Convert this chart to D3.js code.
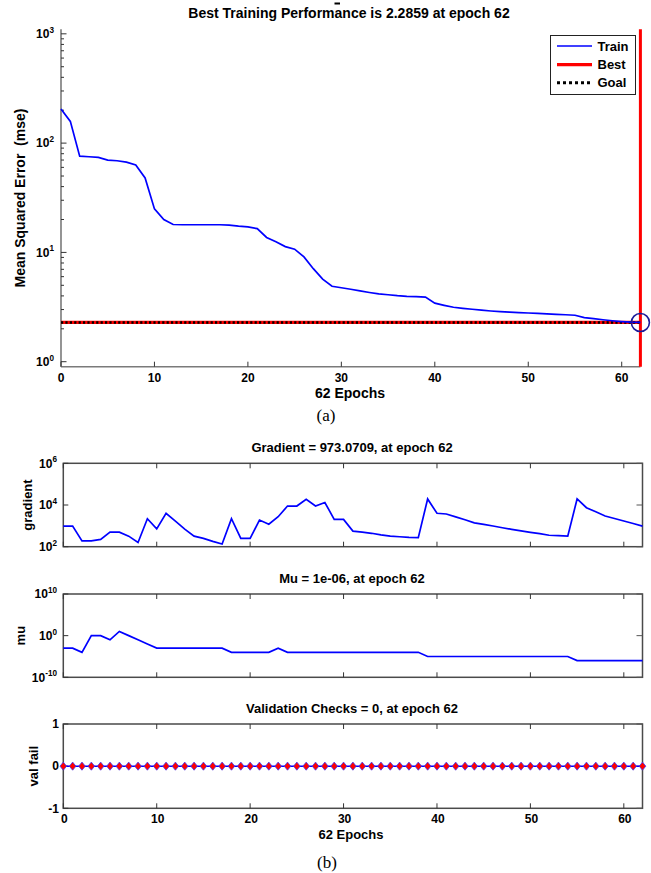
<!DOCTYPE html>
<html><head><meta charset="utf-8">
<script src="https://cdn.jsdelivr.net/npm/d3@7"></script>
<style>
body{margin:0;background:#fff;}
text{font-family:"Liberation Sans",Arial,Helvetica,sans-serif;font-weight:bold;fill:#000;}
</style>
</head><body>
<svg id="c" width="651" height="873"></svg>
<script>
// ---------------- DATA ----------------
const epochs = d3.range(0, 63);
const perfTrain = [205,158,76,75,74,70,69,67,63,48,
  25,20,18,17.9,17.9,17.9,17.9,17.9,17.8,17.4,
  17.1,16.5,13.7,12.5,11.3,10.7,9.1,7.1,5.7,4.9,
  4.75,4.6,4.45,4.3,4.17,4.1,4.02,3.96,3.94,3.9,
  3.43,3.28,3.15,3.08,3.02,2.96,2.91,2.87,2.84,2.81,
  2.79,2.77,2.74,2.71,2.69,2.66,2.53,2.48,2.42,2.37,
  2.33,2.30,2.2859];
const bestEpoch = 62;
const bestPerf = 2.2859;
const goalPerf = 2.2859;
const gradient = [980,980,190,190,225,500,500,320,160,2200,
  720,4000,1700,700,320,250,180,135,2200,250,
  250,1900,1200,2750,8900,8900,18600,8900,13200,2050,
  2050,560,500,440,370,320,300,280,270,19500,
  4000,3700,2700,1950,1400,1170,980,810,680,575,
  490,420,355,340,320,19500,7400,4700,2950,2240,
  1700,1290,973.0709];
const mu = [1e-3,1e-3,1e-4,1,1,0.1,10,1,0.1,0.01,
  1e-3,1e-3,1e-3,1e-3,1e-3,1e-3,1e-3,1e-3,1e-4,1e-4,
  1e-4,1e-4,1e-4,1e-3,1e-4,1e-4,1e-4,1e-4,1e-4,1e-4,
  1e-4,1e-4,1e-4,1e-4,1e-4,1e-4,1e-4,1e-4,1e-4,1e-5,
  1e-5,1e-5,1e-5,1e-5,1e-5,1e-5,1e-5,1e-5,1e-5,1e-5,
  1e-5,1e-5,1e-5,1e-5,1e-5,1e-6,1e-6,1e-6,1e-6,1e-6,
  1e-6,1e-6,1e-6];
const valFail = [0,0,0,0,0,0,0,0,0,0,0,0,0,0,0,0,0,0,0,0,0,
  0,0,0,0,0,0,0,0,0,0,0,0,0,0,0,0,0,0,0,0,0,
  0,0,0,0,0,0,0,0,0,0,0,0,0,0,0,0,0,0,0,0,0];
const xTicks = [0,10,20,30,40,50,60];
const perfTickExp = [0,1,2,3];
const gradTickExp = [2,4,6];
const muTickExp = [-10,0,10];
const valTicks = [-1,0,1];
const legendItems = ["Train","Best","Goal"];
const titles = {
  perf: "Best Training Performance is 2.2859 at epoch 62",
  grad: "Gradient = 973.0709, at epoch 62",
  mu: "Mu = 1e-06, at epoch 62",
  val: "Validation Checks = 0, at epoch 62"
};

// ---------------- DRAW ----------------
const svg = d3.select('#c');
const BLUE = "#0000ff", RED = "#ff0000";

function supLabel(g, x, y, exp, fs) {
  const t = g.append('text').attr('x', x).attr('y', y + fs*0.36)
    .attr('text-anchor','end').attr('font-size', fs);
  t.append('tspan').text('10');
  t.append('tspan').attr('font-size', fs*0.68).attr('dy', -fs*0.45).text(exp);
}

// ===== Panel (a): performance =====
{
  const g = svg.append('g');
  const x = d3.scaleLinear().domain([0, 62]).range([61, 640.4]);
  const y = d3.scaleLog().domain([0.9, 1100]).range([366.7, 29.3]);
  const AX = "#7a7a7a";

  g.append('line').attr('x1', x(0)).attr('x2', x(0)).attr('y1', y.range()[1]).attr('y2', y.range()[0])
    .attr('stroke', AX).attr('stroke-width', 1.6);
  g.append('line').attr('x1', x(0)).attr('x2', x(62)).attr('y1', y.range()[0]).attr('y2', y.range()[0])
    .attr('stroke', AX).attr('stroke-width', 1.6);

  const minor = [];
  [0,1,2].forEach(e => { for (let m = 2; m <= 9; m++) minor.push(m*Math.pow(10,e)); });
  g.selectAll('.ymin').data(minor).join('line')
    .attr('x1', x(0)).attr('x2', x(0)+3).attr('y1', d=>y(d)).attr('y2', d=>y(d))
    .attr('stroke', "#333").attr('stroke-width', 1);
  g.selectAll('.ymaj').data(perfTickExp).join('line')
    .attr('x1', x(0)).attr('x2', x(0)+5.5).attr('y1', d=>y(Math.pow(10,d))).attr('y2', d=>y(Math.pow(10,d)))
    .attr('stroke', "#333").attr('stroke-width', 1);
  perfTickExp.forEach(e => supLabel(g, 54, y(Math.pow(10,e)), e, 12));

  g.selectAll('.xt').data(xTicks).join('line')
    .attr('x1', d=>x(d)).attr('x2', d=>x(d)).attr('y1', y.range()[0]).attr('y2', y.range()[0]-5)
    .attr('stroke', "#333").attr('stroke-width', 1);
  g.selectAll('.xl').data(xTicks).join('text')
    .attr('x', d=>x(d)).attr('y', 382).attr('text-anchor','middle').attr('font-size', 12).text(d=>d);

  g.append('text').attr('x', 350).attr('y', 398).attr('text-anchor','middle').attr('font-size', 14).text("62 Epochs");
  g.append('text').attr('transform', 'translate(25,198) rotate(-90)').attr('text-anchor','middle')
    .style('white-space','pre').attr('xml:space','preserve')
    .attr('font-size', 14).text("Mean Squared Error  (mse)");
  g.append('text').attr('x', 349).attr('y', 18).attr('text-anchor','middle').attr('font-size', 14).text(titles.perf);
  g.append('rect').attr('x', 334.5).attr('y', 2.5).attr('width', 5.5).attr('height', 2).attr('fill', '#000');

  g.append('line').attr('x1', x(0)).attr('x2', x(62)).attr('y1', y(bestPerf)).attr('y2', y(bestPerf))
    .attr('stroke', RED).attr('stroke-width', 3.2);
  g.append('line').attr('x1', x(bestEpoch)).attr('x2', x(bestEpoch)).attr('y1', y.range()[1]).attr('y2', y.range()[0])
    .attr('stroke', RED).attr('stroke-width', 3);
  g.append('line').attr('x1', x(0)).attr('x2', x(62)).attr('y1', y(goalPerf)).attr('y2', y(goalPerf))
    .attr('stroke', '#000').attr('stroke-width', 2.4).attr('stroke-dasharray', '2.2,2.2');
  g.append('path').datum(perfTrain)
    .attr('d', d3.line().x((d,i)=>x(epochs[i])).y(d=>y(d)))
    .attr('fill','none').attr('stroke', BLUE).attr('stroke-width', 1.7);
  g.append('circle').attr('cx', x(bestEpoch)).attr('cy', y(bestPerf)).attr('r', 9)
    .attr('fill','none').attr('stroke', '#1a1a9a').attr('stroke-width', 1.6);

  const L = g.append('g');
  L.append('rect').attr('x', 550.5).attr('y', 35.5).attr('width', 85).attr('height', 59)
    .attr('fill', '#fff').attr('stroke', '#222').attr('stroke-width', 1);
  const ly = [46, 64.7, 82.7];
  const lsty = [
    {c: BLUE, w: 1.6, da: null},
    {c: RED, w: 3.2, da: null},
    {c: '#000', w: 3, da: '3,3'}
  ];
  legendItems.forEach((name, i) => {
    L.append('line').attr('x1', 557).attr('x2', 592).attr('y1', ly[i]).attr('y2', ly[i])
      .attr('stroke', lsty[i].c).attr('stroke-width', lsty[i].w).attr('stroke-dasharray', lsty[i].da);
    L.append('text').attr('x', 597.5).attr('y', ly[i]+4.6).attr('font-size', 13).text(name);
  });

  g.append('text').attr('x', 326).attr('y', 421).attr('text-anchor','middle')
    .style('font-family','"Liberation Serif","Times New Roman",serif').style('font-weight','normal')
    .attr('font-size', 17).text("(a)");
}

// ===== Panels (b) =====
const xb = d3.scaleLinear().domain([0, 62]).range([63.3, 642.5]);
const BOX = "#4a4a4a";

function panel(top, bottom, yScale, yTickVals, title, ylabel, ylabelX, labelFn) {
  const g = svg.append('g');
  const y = yScale.range([bottom, top]);
  g.append('rect').attr('x', xb(0)).attr('y', top).attr('width', xb(62)-xb(0)).attr('height', bottom-top)
    .attr('fill','none').attr('stroke', BOX).attr('stroke-width', 1.5);
  g.selectAll('.xtb').data(xTicks).join('line')
    .attr('x1', d=>xb(d)).attr('x2', d=>xb(d)).attr('y1', bottom).attr('y2', bottom-5)
    .attr('stroke', '#333').attr('stroke-width', 1);
  g.selectAll('.xtt').data(xTicks).join('line')
    .attr('x1', d=>xb(d)).attr('x2', d=>xb(d)).attr('y1', top).attr('y2', top+5)
    .attr('stroke', '#333').attr('stroke-width', 1);
  g.selectAll('.ytl').data(yTickVals).join('line')
    .attr('x1', xb(0)).attr('x2', xb(0)+5).attr('y1', d=>y(d)).attr('y2', d=>y(d))
    .attr('stroke', '#333').attr('stroke-width', 1);
  g.selectAll('.ytr').data(yTickVals).join('line')
    .attr('x1', xb(62)).attr('x2', xb(62)-6).attr('y1', d=>y(d)).attr('y2', d=>y(d))
    .attr('stroke', '#555').attr('stroke-width', 1);
  labelFn(g, y);
  g.append('text').attr('x', 352).attr('y', top-11).attr('text-anchor','middle').attr('font-size', 13).text(title);
  g.append('text').attr('transform', `translate(${ylabelX},${(top+bottom)/2}) rotate(-90)`)
    .attr('text-anchor','middle').attr('font-size', 13).text(ylabel);
  return {g, y};
}

{
  const p = panel(463.3, 546.7, d3.scaleLog().domain([1e2, 1e6]), gradTickExp.map(e=>Math.pow(10,e)),
    titles.grad, "gradient", 32, (g, y) => gradTickExp.forEach(e => supLabel(g, 57, y(Math.pow(10,e)), e, 12)));
  p.g.append('path').datum(gradient)
    .attr('d', d3.line().x((d,i)=>xb(epochs[i])).y(d=>p.y(d)))
    .attr('fill','none').attr('stroke', BLUE).attr('stroke-width', 1.7);
}
{
  const p = panel(594, 677.3, d3.scaleLog().domain([1e-10, 1e10]), muTickExp.map(e=>Math.pow(10,e)),
    titles.mu, "mu", 25, (g, y) => muTickExp.forEach(e => supLabel(g, 57, y(Math.pow(10,e)), e, 12)));
  p.g.append('path').datum(mu)
    .attr('d', d3.line().x((d,i)=>xb(epochs[i])).y(d=>p.y(d)))
    .attr('fill','none').attr('stroke', BLUE).attr('stroke-width', 1.7);
}
{
  const p = panel(724, 808.3, d3.scaleLinear().domain([-1, 1]), valTicks,
    titles.val, "val fail", 38, (g, y) => {
      g.selectAll('.vl').data(valTicks).join('text')
        .attr('x', 59).attr('y', d=>y(d)+4.3).attr('text-anchor','end').attr('font-size', 12).text(d=>d);
    });
  p.g.append('path').datum(valFail)
    .attr('d', d3.line().x((d,i)=>xb(epochs[i])).y(d=>p.y(d)))
    .attr('fill','none').attr('stroke', BLUE).attr('stroke-width', 1.5);
  const diamondType = {draw(ctx, size){ const r = Math.sqrt(size)/2;
    ctx.moveTo(0, -r*1.12); ctx.lineTo(r*0.92, 0); ctx.lineTo(0, r*1.12); ctx.lineTo(-r*0.92, 0); ctx.closePath(); }};
  p.g.selectAll('.dm').data(valFail).join('path')
    .attr('transform', (d,i)=>`translate(${xb(epochs[i])},${p.y(d)})`)
    .attr('d', d3.symbol().type(diamondType).size(52))
    .attr('fill', RED).attr('stroke', '#3a3aff').attr('stroke-width', 0.8);
  p.g.selectAll('.xlb').data(xTicks).join('text')
    .attr('x', d=>xb(d)+1).attr('y', 823).attr('text-anchor','middle').attr('font-size', 12).text(d=>d);
  p.g.append('text').attr('x', 351).attr('y', 839).attr('text-anchor','middle').attr('font-size', 13).text("62 Epochs");
  p.g.append('text').attr('x', 327).attr('y', 868).attr('text-anchor','middle')
    .style('font-family','"Liberation Serif","Times New Roman",serif').style('font-weight','normal')
    .attr('font-size', 17).text("(b)");
}
</script>
</body></html>
